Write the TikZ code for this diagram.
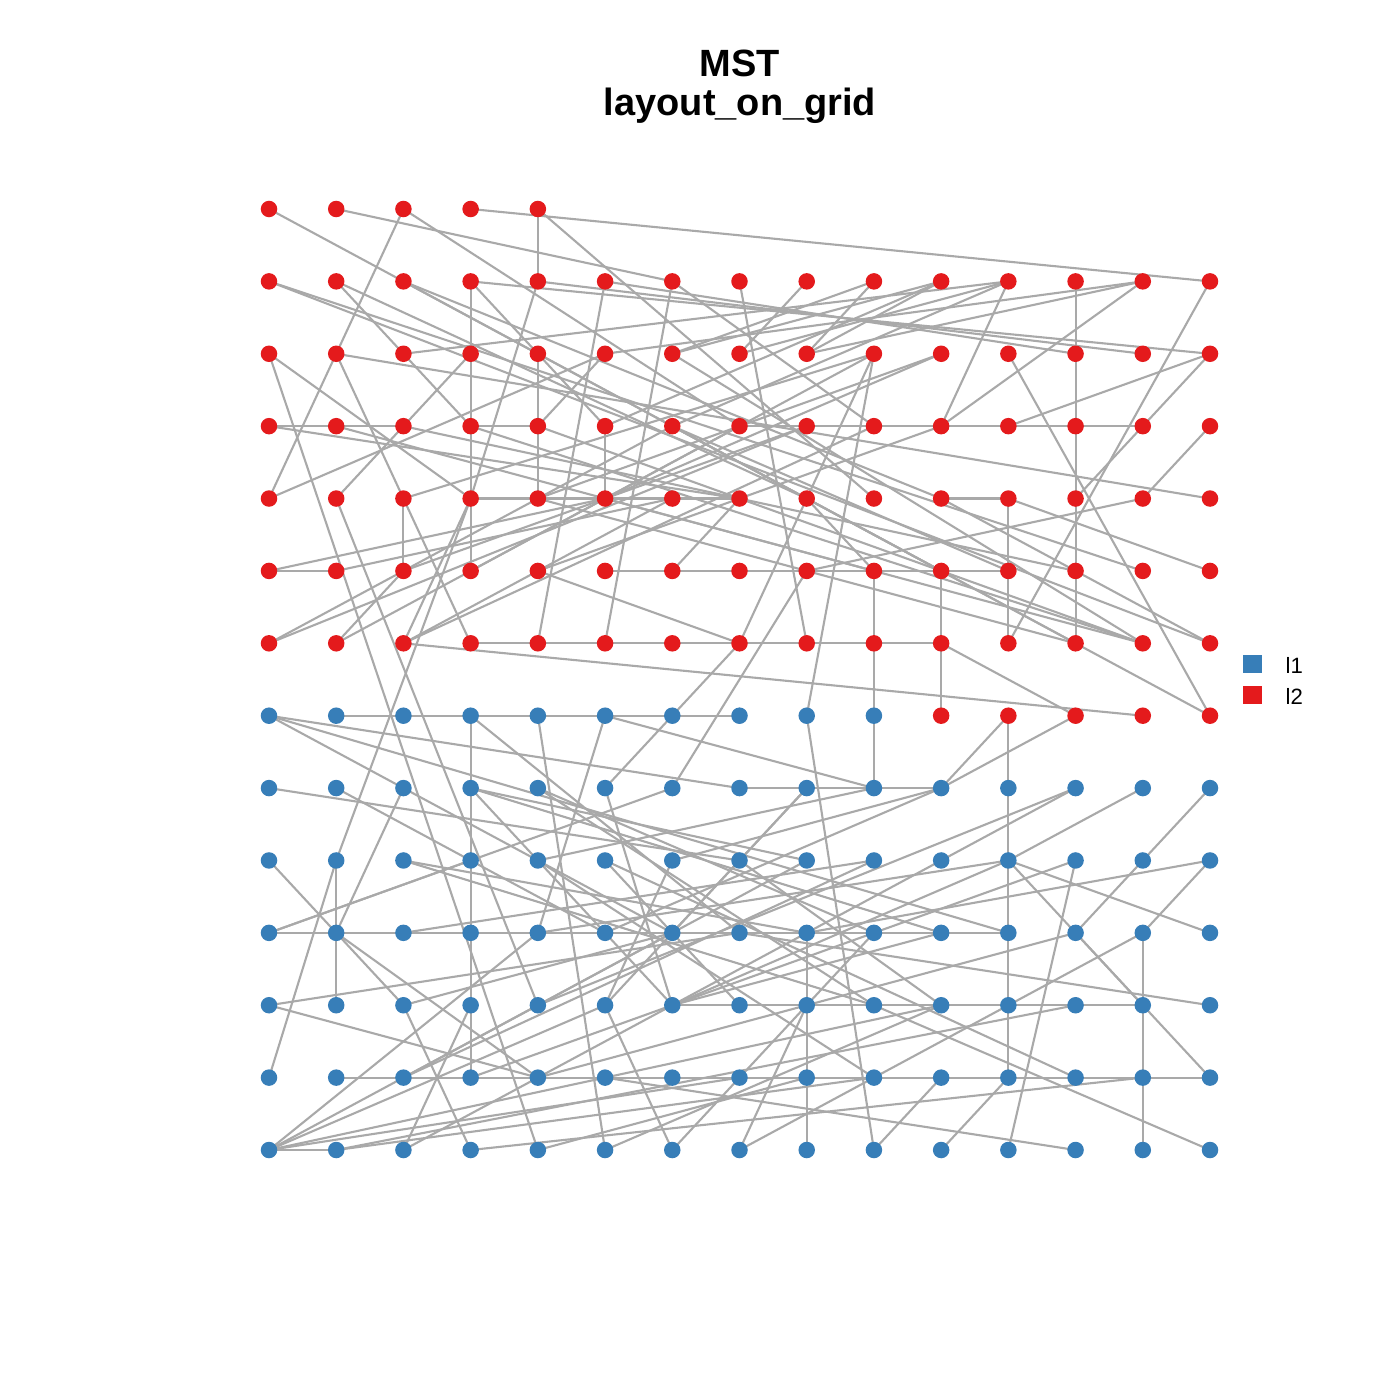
\documentclass[tikz,border=0pt]{standalone}
\usepackage{fontspec}
\setmainfont{Liberation Sans}
\definecolor{redn}{HTML}{E41A1C}
\definecolor{bluen}{HTML}{377EB8}
\definecolor{edgec}{HTML}{A9A9A9}
\pgfdeclarelayer{background}
\pgfsetlayers{background,main}
\begin{document}
\begin{tikzpicture}[x=0.01cm,y=-0.01cm,
  dot/.style={circle,inner sep=0pt,minimum size=0.165cm},
  reddot/.style={dot,fill=redn},
  bluedot/.style={dot,fill=bluen},
  edge/.style={draw=edgec,line width=0.6pt},
  legsq/.style={inner sep=0pt,minimum width=0.19cm,minimum height=0.18cm},
  legtxt/.style={anchor=west,inner sep=0pt,font=\fontsize{6.3pt}{7pt}\selectfont},
  ttl/.style={font=\fontsize{10.8pt}{13pt}\selectfont\bfseries,inner sep=0pt,anchor=base}]
\useasboundingbox (0,0) rectangle (1400,1400);
% nodes
\foreach \c in {0,...,4} \node[reddot] (n0-\c) at ({269+67.214*\c},209) {};
\foreach \r in {1,...,6} \foreach \c in {0,...,14}
  \node[reddot] (n\r-\c) at ({269+67.214*\c},{209+72.385*\r}) {};
\foreach \c in {10,...,14} \node[reddot] (n7-\c) at ({269+67.214*\c},{209+72.385*7}) {};
\foreach \c in {0,...,9} \node[bluedot] (n7-\c) at ({269+67.214*\c},{209+72.385*7}) {};
\foreach \r in {8,...,13} \foreach \c in {0,...,14}
  \node[bluedot] (n\r-\c) at ({269+67.214*\c},{209+72.385*\r}) {};
% edges
\begin{pgfonlayer}{background}
\foreach \a/\b in {0-0/6-12, 0-1/1-6, 0-2/2-1, 0-2/3-7, 0-3/1-14, 0-4/1-4, 0-4/4-9,
1-0/5-13, 1-0/6-14, 1-1/2-2, 2-2/3-3, 1-2/5-10, 1-2/4-10,
1-3/2-3, 2-3/3-3, 3-3/4-3, 4-3/5-3, 1-3/2-14, 1-4/2-13, 1-3/3-5, 1-4/4-3,
1-5/6-4, 1-5/2-12, 1-6/6-5, 1-6/3-9, 1-7/6-8, 1-8/2-7, 1-9/2-8, 2-8/1-10, 2-7/1-11, 1-11/3-10,
1-12/2-12, 2-12/3-12, 3-12/4-12, 4-12/5-12, 5-12/6-12,
1-13/3-10, 1-13/2-5, 1-14/6-11, 2-11/7-14, 2-14/3-11, 2-14/4-12, 3-14/4-13, 2-1/4-14, 2-1/4-0,
2-0/13-4, 2-0/4-3, 2-1/4-2, 3-0/3-1, 3-1/3-2, 3-0/4-7, 3-1/5-9, 4-1/3-2, 3-2/2-3,
3-4/4-4, 2-4/3-4, 2-2/1-11, 2-6/1-10, 1-10/3-5, 1-11/3-6, 2-9/7-8, 2-9/6-7, 2-10/4-5, 3-3/3-4, 3-6/5-11,
3-7/3-8, 3-8/3-9, 3-9/3-10, 3-10/3-11, 3-11/3-12, 3-12/3-13, 3-5/4-5,
4-3/4-4, 4-4/4-5, 4-5/4-6, 4-6/4-7, 5-0/4-5, 6-2/4-6, 4-7/5-6, 4-8/5-9, 4-10/4-11, 4-11/5-11, 5-11/6-11, 4-11/5-14, 4-13/5-8,
5-0/5-1, 5-1/4-6, 5-2/4-2, 5-2/3-8, 5-4/6-7,
5-5/5-6, 5-6/5-7, 5-7/5-8, 5-8/5-9, 5-9/5-10, 5-10/5-11,
6-0/3-8, 6-0/3-6, 6-1/5-2, 6-1/3-7, 6-2/4-3, 6-2/7-13,
6-3/6-4, 6-4/6-5, 6-5/6-6, 6-6/6-7, 6-7/6-8, 6-8/6-9, 6-9/6-10, 6-3/4-2,
5-9/6-9, 6-9/7-9, 7-9/8-9, 5-10/6-10, 6-10/7-10, 6-10/7-12, 6-12/7-14, 6-13/3-4, 6-13/4-5, 6-13/3-3, 6-12/4-4,
6-12/3-6, 1-1/4-8, 4-0/2-5, 4-2/2-9, 6-2/3-9, 4-4/2-10, 3-2/5-12, 2-5/3-4, 1-9/2-6, 1-13/2-8, 6-14/4-10, 5-4/3-10, 5-3/2-9, 6-13/2-6,
7-11/8-11, 7-11/8-10, 7-12/8-10,
7-0/8-7, 7-0/10-11, 7-0/10-6,
7-1/7-2, 7-2/7-3, 7-3/7-4, 7-4/7-5, 7-5/7-6, 7-6/7-7,
7-3/8-3, 8-3/9-3, 9-3/10-3, 10-3/11-3, 11-3/12-3,
7-3/10-7, 7-4/13-5, 7-5/8-9, 7-5/10-4, 7-6/6-7, 7-8/13-9,
8-0/9-7, 8-1/10-5, 8-2/10-1, 8-3/9-8, 8-3/11-6, 8-4/10-9, 8-5/11-6, 8-5/7-6, 8-6/5-8,
8-7/8-8, 8-8/8-9, 8-9/8-10, 8-8/11-5, 8-11/9-11, 9-11/10-11, 10-11/11-11, 11-11/12-11,
8-12/9-10, 8-13/9-11, 8-14/9-13,
9-0/10-1, 9-1/10-1, 10-1/11-1, 9-1/4-3, 9-1/12-0, 9-2/10-8, 9-3/10-0, 9-4/8-9,
9-5/11-7, 9-6/11-5, 9-7/10-6, 9-7/8-8, 9-12/13-11, 9-13/10-12, 9-14/10-13, 9-14/10-8, 9-11/10-14, 9-11/11-13,
10-0/10-1, 10-1/10-2, 10-2/10-3, 10-3/10-4, 10-4/10-5, 10-5/10-6, 10-6/10-7, 10-7/10-8, 10-8/10-9, 10-9/10-10, 10-10/10-11,
10-1/11-2, 10-1/12-4, 10-8/11-8, 11-8/12-8, 12-8/13-8, 10-12/11-13, 10-13/11-13, 11-13/12-13, 12-13/13-13,
11-0/10-7, 11-0/12-4, 11-2/10-6, 11-2/13-3, 11-3/13-2, 11-4/4-1,
11-6/11-7, 11-7/11-8, 11-8/11-9, 11-9/11-10, 11-10/11-11, 11-11/11-12, 11-12/11-13, 11-13/12-14, 11-14/10-7, 11-5/13-6,
12-1/12-2, 12-2/12-3, 12-3/12-4, 12-4/12-5, 12-5/12-6, 12-6/12-7, 12-7/12-8, 12-8/12-9, 12-9/12-10, 12-10/12-11, 12-11/12-12, 12-12/12-13, 12-13/12-14,
12-2/13-0, 12-2/10-6, 12-2/9-9, 12-10/13-9, 12-11/13-10,
13-0/10-4, 13-0/11-5, 13-0/12-7, 13-0/13-1, 13-1/12-9, 13-2/9-10, 13-4/12-8, 13-3/12-13, 13-7/11-8, 13-12/12-5, 13-14/11-9,
8-3/10-10, 8-4/11-9, 9-2/11-9, 10-0/8-6, 10-2/9-9, 12-2/9-8, 13-0/11-10, 13-1/11-12, 9-4/12-9, 11-4/8-12,
12-3/9-12, 12-4/10-12, 13-5/11-10, 13-6/10-9, 13-7/10-13, 9-5/12-12, 8-10/10-5, 8-10/9-6, 9-11/11-6, 9-11/10-4, 10-10/11-6, 11-10/9-7}
  \draw[edge] (n\a.center) -- (n\b.center);
\end{pgfonlayer}
% title
\node[ttl] (t1) at (740,77) {MST};
\node[ttl] (t2) at (740,116) {layout\_on\_grid};
% legend
\node[legsq,fill=bluen] (lg1) at (1252,664) {};
\node[legsq,fill=redn] (lg2) at (1252,695) {};
\node[legtxt] (lt1) at (1285,665) {l1};
\node[legtxt] (lt2) at (1285,696) {l2};
\end{tikzpicture}
\end{document}
